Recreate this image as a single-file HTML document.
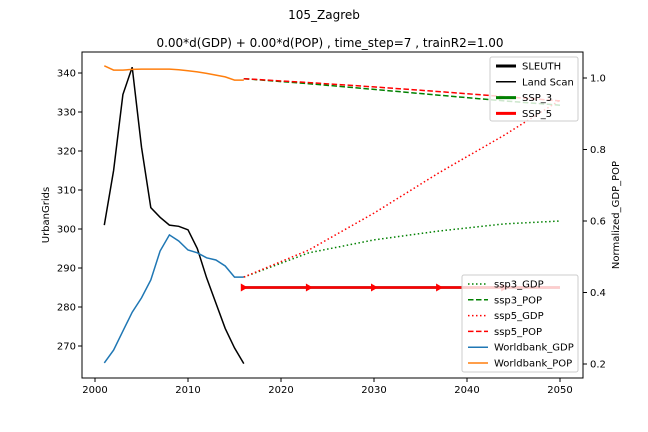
<!DOCTYPE html>
<html><head><meta charset="utf-8"><style>
body{margin:0;background:#fff;}
svg{display:block;font-family:"DejaVu Sans","Liberation Sans",sans-serif;}
</style></head><body>
<svg id="c" width="648" height="432">
<text x="324" y="19" font-size="12" text-anchor="middle">105_Zagreb</text>
<text x="330" y="47" font-size="12" text-anchor="middle">0.00*d(GDP) + 0.00*d(POP) , time_step=7 , trainR2=1.00</text>
<text transform="translate(49,215) rotate(-90)" font-size="10" text-anchor="middle">UrbanGrids</text>
<text transform="translate(619,215) rotate(-90)" font-size="10" text-anchor="middle">Normalized_GDP_POP</text>
<g id="plot"></g>
</svg>
<script>
const years=[2001,2002,2003,2004,2005,2006,2007,2008,2009,2010,2011,2012,2013,2014,2015,2016];
const landScan=[301,315,334.5,341.5,321,305.5,303,301,300.7,299.8,295,287.5,281,274.5,269.5,265.5];
const wbGDP=[0.203,0.239,0.292,0.345,0.385,0.435,0.516,0.561,0.544,0.519,0.511,0.497,0.491,0.474,0.443,0.443];
const wbPOP=[1.034,1.022,1.022,1.024,1.025,1.025,1.025,1.025,1.023,1.02,1.017,1.013,1.008,1.003,0.994,0.994];
const projYears=[2016,2023,2030,2037,2044,2050];
const ssp3GDP=[0.443,0.511,0.547,0.572,0.592,0.6];
const ssp3POP=[0.998,0.984,0.968,0.952,0.936,0.924];
const ssp5GDP=[0.443,0.519,0.622,0.735,0.84,0.938];
const ssp5POP=[0.998,0.987,0.975,0.962,0.948,0.936];
const sleuth=[285,285,285,285,285,285];
const ssp5Sleuth=[285,285,285,285,285,285];
const xTicks=[2000,2010,2020,2030,2040,2050];
const yTicks=[270,280,290,300,310,320,330,340];
const y2Ticks=[0.2,0.4,0.6,0.8,1.0];

const L=82,R=583,T=52,B=378;
const X=v=>95+(v-2000)*9.3;
const Y=v=>346-(v-270)*3.9;
const Y2=v=>78+(1-v)*357.5;
const ns="http://www.w3.org/2000/svg";
const g=document.getElementById('plot');
function mk(t,a,p){const e=document.createElementNS(ns,t);for(const k in a)e.setAttribute(k,a[k]);(p||g).appendChild(e);return e;}
function line(xs,ys,fy,style,name){
  const d=xs.map((x,i)=>(i?'L':'M')+X(x).toFixed(1)+','+fy(ys[i]).toFixed(1)).join(' ');
  const e=mk('path',Object.assign({d:d,fill:'none'},style));
  
  
  return e;
}
const fr=mk('rect',{x:L,y:T,width:R-L,height:B-T,fill:'none',stroke:'#000','stroke-width':1});


xTicks.forEach(t=>{
  mk('line',{x1:X(t),x2:X(t),y1:B,y2:B+4,stroke:'#000'});
  const tx=mk('text',{x:X(t),y:B+15,'font-size':10,'text-anchor':'middle'});tx.textContent=t;
  
  
});
yTicks.forEach(t=>{
  mk('line',{x1:L-4,x2:L,y1:Y(t),y2:Y(t),stroke:'#000'});
  const tx=mk('text',{x:L-6,y:Y(t)+3.5,'font-size':10,'text-anchor':'end'});tx.textContent=t;
  
  
});
y2Ticks.forEach(t=>{
  mk('line',{x1:R,x2:R+4,y1:Y2(t),y2:Y2(t),stroke:'#000'});
  const tx=mk('text',{x:R+7,y:Y2(t)+3.5,'font-size':10});tx.textContent=t.toFixed(1);
  
  
});
line(years,landScan,Y,{stroke:'#000','stroke-width':1.5},'land-scan-line');
line(projYears,sleuth,Y,{stroke:'#000','stroke-width':2.5},'sleuth-line');
line(projYears,ssp5Sleuth,Y,{stroke:'red','stroke-width':2.5},'ssp5-line');
projYears.slice(0,5).forEach((yr,i)=>{
  const x=X(yr),y=Y(ssp5Sleuth[i]);
  const m=mk('path',{d:`M${x-3},${y-4} L${x+4},${y} L${x-3},${y+4} Z`,fill:'red'});
  
  
});
line(years,wbGDP,Y2,{stroke:'#1f77b4','stroke-width':1.5},'worldbank-gdp-line');
line(years,wbPOP,Y2,{stroke:'#ff7f0e','stroke-width':1.5},'worldbank-pop-line');
line(projYears,ssp3GDP,Y2,{stroke:'green','stroke-width':1.5,'stroke-dasharray':'1.5,2.5'},'ssp3-gdp-line');
line(projYears,ssp3POP,Y2,{stroke:'green','stroke-width':1.5,'stroke-dasharray':'5.5,2.5'},'ssp3-pop-line');
line(projYears,ssp5GDP,Y2,{stroke:'red','stroke-width':1.5,'stroke-dasharray':'1.5,2.5'},'ssp5-gdp-line');
line(projYears,ssp5POP,Y2,{stroke:'red','stroke-width':1.5,'stroke-dasharray':'5.5,2.5'},'ssp5-pop-line');

function legend(x,y,w,h,items,name){
  const lg=mk('g',{});
  
  
  mk('rect',{x:x,y:y,width:w,height:h,rx:2,fill:'#fff','fill-opacity':0.8,stroke:'#ccc'},lg);
  items.forEach((it,i)=>{
    const yy=y+9+i*15.8;
    mk('line',Object.assign({x1:x+6,x2:x+26,y1:yy,y2:yy},it[1]),lg);
    const t=mk('text',{x:x+32,y:yy+3.5,'font-size':10},lg);t.textContent=it[0];
    
    
  });
}
legend(490,57,88,64,[['SLEUTH',{stroke:'#000','stroke-width':3}],['Land Scan',{stroke:'#000','stroke-width':1.5}],['SSP_3',{stroke:'green','stroke-width':3}],['SSP_5',{stroke:'red','stroke-width':3}]],'legend-urban');
legend(462,275,116,97,[['ssp3_GDP',{stroke:'green','stroke-width':1.5,'stroke-dasharray':'1.5,2.5'}],['ssp3_POP',{stroke:'green','stroke-width':1.5,'stroke-dasharray':'5.5,2.5'}],['ssp5_GDP',{stroke:'red','stroke-width':1.5,'stroke-dasharray':'1.5,2.5'}],['ssp5_POP',{stroke:'red','stroke-width':1.5,'stroke-dasharray':'5.5,2.5'}],['Worldbank_GDP',{stroke:'#1f77b4','stroke-width':1.5}],['Worldbank_POP',{stroke:'#ff7f0e','stroke-width':1.5}]],'legend-drivers');
</script>
</body></html>
